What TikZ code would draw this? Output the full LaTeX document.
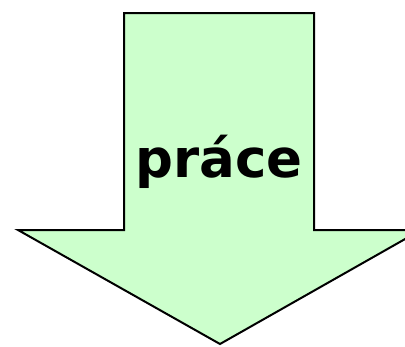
\documentclass[tikz,border=0pt]{standalone}
\usepackage{fontspec}
\newfontfamily\labelfont{DejaVu Sans}
\usepackage{tikz}
\definecolor{ArrowFill}{HTML}{CCFFCC}
\begin{document}
\begin{tikzpicture}[x=1pt,y=-1pt,
  bigarrow/.style={draw=black,fill=ArrowFill,line width=2pt,line join=miter},
  arrowlabel/.style={font=\labelfont\bfseries\fontsize{53}{60}\selectfont,anchor=base,inner sep=0pt}
]
  \useasboundingbox (0,0) rectangle (405,346);
  \clip (0,0) rectangle (405,346);
  % down arrow
  \draw[bigarrow] (124,13) -- (314,13) -- (314,230) -- (421,230) -- (220,344)
    -- (18,230) -- (124,230) -- cycle;
  \node[arrowlabel] (work) at (219,177) {práce};
\end{tikzpicture}
\end{document}
